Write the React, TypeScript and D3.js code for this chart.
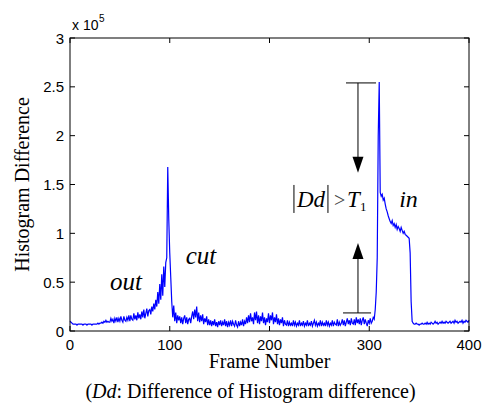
import React from 'react';
import * as d3 from 'd3';

// histogram difference per frame (frames 0..400), in units of 1e5
const histDiff = [
  0.10, 0.09, 0.08, 0.07, 0.07, 0.07, 0.07, 0.06, 0.07, 0.07, 0.07, 0.07, 0.07, 0.06, 0.07, 0.07, 0.07, 0.06, 0.07, 0.07,
  0.07, 0.07, 0.06, 0.07, 0.07, 0.07, 0.07, 0.07, 0.08, 0.07, 0.08, 0.08, 0.09, 0.08, 0.10, 0.09, 0.11, 0.09, 0.10, 0.09,
  0.09, 0.13, 0.10, 0.12, 0.08, 0.13, 0.10, 0.14, 0.09, 0.13, 0.10, 0.15, 0.11, 0.09, 0.15, 0.11, 0.10, 0.14, 0.11, 0.16,
  0.10, 0.16, 0.12, 0.11, 0.18, 0.12, 0.16, 0.11, 0.19, 0.13, 0.17, 0.12, 0.20, 0.14, 0.22, 0.13, 0.18, 0.23, 0.15, 0.21,
  0.22, 0.17, 0.25, 0.20, 0.28, 0.22, 0.32, 0.25, 0.40, 0.28, 0.48, 0.32, 0.58, 0.36, 0.66, 0.45, 0.70, 0.75, 1.68, 1.15,
  0.80, 0.55, 0.30, 0.14, 0.26, 0.10, 0.19, 0.08, 0.16, 0.11, 0.15, 0.08, 0.14, 0.07, 0.13, 0.16, 0.08, 0.14, 0.07, 0.12,
  0.13, 0.08, 0.15, 0.20, 0.12, 0.22, 0.14, 0.25, 0.10, 0.19, 0.09, 0.16, 0.10, 0.17, 0.07, 0.13, 0.09, 0.15, 0.06, 0.12,
  0.06, 0.11, 0.05, 0.10, 0.06, 0.12, 0.05, 0.09, 0.04, 0.10, 0.06, 0.11, 0.05, 0.09, 0.06, 0.12, 0.05, 0.10, 0.04, 0.09,
  0.06, 0.11, 0.05, 0.10, 0.07, 0.05, 0.11, 0.06, 0.04, 0.10, 0.05, 0.09, 0.06, 0.12, 0.05, 0.10, 0.07, 0.14, 0.08, 0.16,
  0.09, 0.18, 0.10, 0.14, 0.07, 0.19, 0.11, 0.20, 0.08, 0.16, 0.07, 0.15, 0.10, 0.19, 0.08, 0.14, 0.06, 0.13, 0.09, 0.18,
  0.08, 0.16, 0.11, 0.19, 0.07, 0.14, 0.09, 0.17, 0.07, 0.13, 0.06, 0.12, 0.08, 0.14, 0.05, 0.11, 0.07, 0.06, 0.11, 0.05,
  0.09, 0.06, 0.08, 0.05, 0.11, 0.06, 0.09, 0.05, 0.08, 0.06, 0.11, 0.05, 0.08, 0.06, 0.10, 0.05, 0.08, 0.06, 0.11, 0.05,
  0.08, 0.06, 0.10, 0.05, 0.08, 0.11, 0.06, 0.09, 0.05, 0.08, 0.06, 0.11, 0.05, 0.09, 0.06, 0.08, 0.05, 0.11, 0.06, 0.09,
  0.05, 0.08, 0.06, 0.11, 0.05, 0.09, 0.07, 0.06, 0.12, 0.05, 0.09, 0.06, 0.08, 0.12, 0.06, 0.11, 0.05, 0.09, 0.13, 0.07,
  0.11, 0.06, 0.13, 0.08, 0.07, 0.12, 0.06, 0.14, 0.08, 0.12, 0.07, 0.13, 0.06, 0.11, 0.14, 0.07, 0.12, 0.08, 0.05, 0.11,
  0.08, 0.13, 0.08, 0.10, 0.14, 0.12, 0.22, 0.40, 0.75, 2.00, 2.55, 1.42, 1.38, 1.40, 1.34, 1.36, 1.30, 1.25, 1.22, 1.18,
  1.15, 1.12, 1.10, 1.13, 1.08, 1.10, 1.06, 1.09, 1.04, 1.07, 1.05, 1.02, 1.06, 1.03, 1.00, 1.02, 0.99, 0.98, 0.97, 0.96,
  0.95, 0.80, 0.30, 0.10, 0.08, 0.07, 0.07, 0.08, 0.07, 0.07, 0.06, 0.07, 0.07, 0.08, 0.07, 0.07, 0.08, 0.07, 0.09, 0.07,
  0.08, 0.07, 0.09, 0.08, 0.07, 0.08, 0.10, 0.08, 0.09, 0.07, 0.08, 0.09, 0.08, 0.10, 0.08, 0.09, 0.08, 0.10, 0.09, 0.08,
  0.09, 0.10, 0.08, 0.09, 0.10, 0.08, 0.11, 0.09, 0.10, 0.08, 0.09, 0.10, 0.09, 0.11, 0.08, 0.10, 0.09, 0.11, 0.10, 0.09,
  0.11,
];

const xTicks = [0, 100, 200, 300, 400];
const yTicks = [0, 0.5, 1, 1.5, 2, 2.5, 3];

// annotation anchors, in data units (frame, x1e5)
const outLabel = [40, 0.42];
const cutLabel = [116, 0.69];
const inLabel = [330, 1.27];
const condLabel = [224.5, 1.27];
const arrowX = 288.7;
const topBar = [276.7, 306.8, 2.54];
const bottomBar = [273.7, 301.8, 0.185];
const topArrowTip = 1.62;
const bottomArrowTip = 0.9;

const W = 485;
const H = 405;
const margin = { top: 38, right: 16, bottom: 74, left: 70 };
const width = W - margin.left - margin.right;
const height = H - margin.top - margin.bottom;

const sans = "'Liberation Sans', Arial, Helvetica, sans-serif";
const serif = "'Liberation Serif', 'Times New Roman', Times, serif";

export default function App() {
  const x = d3.scaleLinear().domain([0, 400]).range([margin.left, margin.left + width]);
  const y = d3.scaleLinear().domain([0, 3]).range([margin.top + height, margin.top]);

  const line = d3
    .line<number>()
    .x((d, i) => x(i))
    .y((d) => y(d));

  const left = x(0);
  const right = x(400);
  const top = y(3);
  const bottom = y(0);
  const tk = 5;

  const ax = x(arrowX);
  const head = (tipY: number, dir: number) => {
    // dir = 1 pointing down, -1 pointing up
    const t = y(tipY);
    return `M${ax},${t} L${ax - 5.5},${t - dir * 16} L${ax + 5.5},${t - dir * 16} Z`;
  };

  const cx = x(condLabel[0]);
  const cy = y(condLabel[1]);

  return (
    <svg width={W} height={H} style={{ position: 'absolute', left: 0, top: 0, background: '#fff' }}>
      <rect x={0} y={0} width={W} height={H} fill="#fff" />

      {/* data */}
      <path d={line(histDiff) || ''} fill="none" stroke="#0000ff" strokeWidth={1.2} />

      {/* box */}
      <rect x={left} y={top} width={right - left} height={bottom - top} fill="none" stroke="#000" strokeWidth={1} />

      {/* x ticks */}
      {xTicks.map((t) => (
        <g key={'x' + t}>
          <line x1={x(t)} x2={x(t)} y1={bottom} y2={bottom - tk} stroke="#000" />
          <line x1={x(t)} x2={x(t)} y1={top} y2={top + tk} stroke="#000" />
          <text x={x(t)} y={bottom + 19} textAnchor="middle" fontFamily={sans} fontSize={15}>
            {t}
          </text>
        </g>
      ))}

      {/* y ticks */}
      {yTicks.map((t) => (
        <g key={'y' + t}>
          <line x1={left} x2={left + tk} y1={y(t)} y2={y(t)} stroke="#000" />
          <line x1={right} x2={right - tk} y1={y(t)} y2={y(t)} stroke="#000" />
          <text x={left - 6} y={y(t) + 5.5} textAnchor="end" fontFamily={sans} fontSize={15}>
            {t}
          </text>
        </g>
      ))}

      {/* exponent */}
      <text x={left + 2} y={top - 8} fontFamily={sans} fontSize={14}>
        x 10
      </text>
      <text x={left + 29} y={top - 16} fontFamily={sans} fontSize={10}>
        5
      </text>

      {/* axis labels */}
      <text x={(left + right) / 2} y={bottom + 37} textAnchor="middle" fontFamily={serif} fontSize={20}>
        Frame Number
      </text>
      <text
        transform={`translate(${29},${(top + bottom) / 2}) rotate(-90)`}
        textAnchor="middle"
        fontFamily={serif}
        fontSize={20}
      >
        Histogram Difference
      </text>

      {/* caption */}
      <text x={W / 2 + 8} y={398} textAnchor="middle" fontFamily={serif} fontSize={20}>
        (<tspan fontStyle="italic">Dd</tspan>: Difference of Histogram difference)
      </text>

      {/* region labels */}
      <text x={x(outLabel[0])} y={y(outLabel[1])} fontFamily={serif} fontStyle="italic" fontSize={25}>
        out
      </text>
      <text x={x(cutLabel[0])} y={y(cutLabel[1])} fontFamily={serif} fontStyle="italic" fontSize={25}>
        cut
      </text>
      <text x={x(inLabel[0])} y={y(inLabel[1])} fontFamily={serif} fontStyle="italic" fontSize={24}>
        in
      </text>

      {/* |Dd| > T1 */}
      <line x1={cx} x2={cx} y1={cy - 22} y2={cy + 6} stroke="#000" strokeWidth={1} />
      <text x={cx + 3} y={cy} fontFamily={serif} fontStyle="italic" fontSize={23}>
        Dd
      </text>
      <line x1={cx + 34} x2={cx + 34} y1={cy - 22} y2={cy + 6} stroke="#000" strokeWidth={1} />
      <text x={cx + 40} y={cy} fontFamily={serif} fill="#444" fontSize={20}>
        &gt;
      </text>
      <text x={cx + 53} y={cy} fontFamily={serif} fontStyle="italic" fontSize={23}>
        T
      </text>
      <text x={cx + 66} y={cy + 4} fontFamily={serif} fontSize={13}>
        1
      </text>

      {/* threshold arrows */}
      <line x1={x(topBar[0])} x2={x(topBar[1])} y1={y(topBar[2])} y2={y(topBar[2])} stroke="#000" />
      <line x1={ax} x2={ax} y1={y(topBar[2])} y2={y(topArrowTip) - 14} stroke="#000" />
      <path d={head(topArrowTip, 1)} fill="#000" />
      <line x1={x(bottomBar[0])} x2={x(bottomBar[1])} y1={y(bottomBar[2])} y2={y(bottomBar[2])} stroke="#000" />
      <line x1={ax} x2={ax} y1={y(bottomBar[2])} y2={y(bottomArrowTip) + 14} stroke="#000" />
      <path d={head(bottomArrowTip, -1)} fill="#000" />
    </svg>
  );
}
